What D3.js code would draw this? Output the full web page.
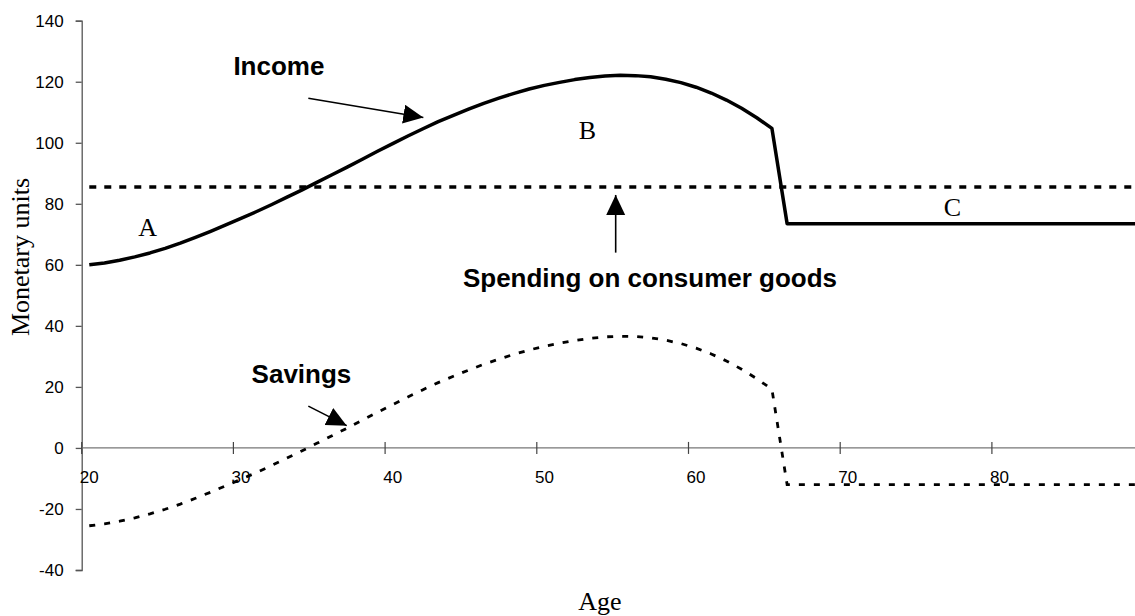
<!DOCTYPE html>
<html>
<head>
<meta charset="utf-8">
<script src="https://cdn.jsdelivr.net/npm/d3@7"></script>
<style>
  body { margin: 0; background: #fff; }
  svg { display: block; }
  .tick-label { font-family: "Liberation Sans", Arial, sans-serif; font-size: 17px; fill: #000; }
  .note { font-family: "Liberation Sans", Arial, sans-serif; font-size: 26px; font-weight: bold; fill: #000; }
  .serif { font-family: "Liberation Serif", "Times New Roman", serif; font-size: 26px; fill: #000; }
</style>
</head>
<body>
<svg id="chart" width="1135" height="616"></svg>
<script>
// ages shown on the category axis (one point per year)
const ages = d3.range(20, 90);

// income per year of age
const income = [
  60.0, 60.6, 61.5, 62.6, 63.9, 65.4, 67.1, 69.0, 71.0, 73.1,   // 20-29
  75.2, 77.4, 79.7, 82.1, 84.5, 87.0, 89.5, 92.0, 94.6, 97.2,   // 30-39
  99.7, 102.2, 104.6, 106.9, 109.0, 111.0, 112.9, 114.6, 116.2, 117.6, // 40-49
  118.8, 119.8, 120.7, 121.4, 121.9, 122.1, 122.0, 121.6, 120.8, 119.7, // 50-59
  118.2, 116.3, 114.0, 111.3, 108.2, 104.7, 73.5, 73.5, 73.5, 73.5,     // 60-69
  73.5, 73.5, 73.5, 73.5, 73.5, 73.5, 73.5, 73.5, 73.5, 73.5,           // 70-79
  73.5, 73.5, 73.5, 73.5, 73.5, 73.5, 73.5, 73.5, 73.5, 73.5            // 80-89
];

// flat consumer spending
const spending = ages.map(() => 85.5);

// savings per year of age
const savings = [
  -25.5, -24.9, -24.0, -22.9, -21.6, -20.1, -18.4, -16.5, -14.5, -12.4, // 20-29
  -10.3, -8.1, -5.8, -3.4, -1.0, 1.5, 4.0, 6.5, 9.1, 11.7,              // 30-39
  14.2, 16.7, 19.1, 21.4, 23.5, 25.5, 27.4, 29.1, 30.7, 32.1,           // 40-49
  33.3, 34.3, 35.2, 35.9, 36.4, 36.6, 36.5, 36.1, 35.3, 34.2,           // 50-59
  32.7, 30.8, 28.5, 25.8, 22.7, 19.2, -12.0, -12.0, -12.0, -12.0,       // 60-69
  -12.0, -12.0, -12.0, -12.0, -12.0, -12.0, -12.0, -12.0, -12.0, -12.0, // 70-79
  -12.0, -12.0, -12.0, -12.0, -12.0, -12.0, -12.0, -12.0, -12.0, -12.0  // 80-89
];

const yTicks = [-40, -20, 0, 20, 40, 60, 80, 100, 120, 140];
const xTicks = [20, 30, 40, 50, 60, 70, 80];

let svg = d3.select('#chart');

// category axis: each age takes one slot, points sit in the middle of the slot
let x = d3.scaleLinear().domain([20, 90]).range([81.7, 1143.6]);
let y = d3.scaleLinear().domain([-40, 140]).range([570, 20.7]);

// arrow heads
let defs = svg.append('defs');
defs.append('marker')
    .attr('id', 'head')
    .attr('markerUnits', 'userSpaceOnUse')
    .attr('markerWidth', 22)
    .attr('markerHeight', 20)
    .attr('refX', 20)
    .attr('refY', 9.5)
    .attr('orient', 'auto')
    .append('path')
    .attr('d', 'M0,0 L20,9.5 L0,19 Z')
    .attr('fill', '#000');

// y axis (plain hyphen for negatives, like the original)
let yAxis = svg.append('g')
    .attr('transform', `translate(${x(20)},0)`)
    .call(d3.axisLeft(y).tickValues(yTicks).tickSize(6).tickPadding(12).tickFormat(d => String(d)));
yAxis.select('.domain').attr('stroke', '#555').attr('stroke-width', 1.3);
yAxis.selectAll('.tick line').attr('stroke', '#555').attr('stroke-width', 1.3);
yAxis.selectAll('.tick text').attr('class', 'tick-label').attr('x', -18).attr('dy', '0.35em');

// x axis along zero
let xAxis = svg.append('g').attr('transform', `translate(0,${y(0)})`);
xAxis.append('line')
    .attr('x1', x(20)).attr('x2', x(90))
    .attr('stroke', '#777').attr('stroke-width', 1.3);
xAxis.selectAll('line.tk')
    .data(xTicks)
    .join('line')
    .classed('tk', true)
    .attr('x1', d => x(d)).attr('x2', d => x(d))
    .attr('y1', -6).attr('y2', 6)
    .attr('stroke', '#444').attr('stroke-width', 1.2);
xAxis.selectAll('text')
    .data(xTicks)
    .join('text')
    .attr('class', 'tick-label')
    .attr('x', d => x(d + 0.5))
    .attr('y', 35.5)
    .attr('text-anchor', 'middle')
    .text(d => d);

// series lines
let line = d3.line().x((d, i) => x(ages[i] + 0.5)).y(d => y(d));

svg.append('path')
    .datum(spending)
    .attr('d', line)
    .attr('fill', 'none')
    .attr('stroke', '#000')
    .attr('stroke-width', 3.5)
    .attr('stroke-dasharray', '7,8');

svg.append('path')
    .datum(savings)
    .attr('d', line)
    .attr('fill', 'none')
    .attr('stroke', '#000')
    .attr('stroke-width', 2.8)
    .attr('stroke-dasharray', '6,9');

svg.append('path')
    .datum(income)
    .attr('d', line)
    .attr('fill', 'none')
    .attr('stroke', '#000')
    .attr('stroke-width', 3.5)
    .attr('stroke-linejoin', 'round');

// annotations, placed in (age, value) units
const notes = [
  { text: 'Income', age: 30.0, val: 122.2 },
  { text: 'Spending on consumer goods', age: 45.13, val: 52.7 },
  { text: 'Savings', age: 31.2, val: 21.4 }
];
const arrows = [
  { a1: 34.94, v1: 114.6, a2: 42.52, v2: 108.3 },
  { a1: 55.2, v1: 64.0, a2: 55.2, v2: 82.9 },
  { a1: 34.94, v1: 13.7, a2: 37.47, v2: 7.3 }
];
const letters = [
  { text: 'A', age: 24.34, val: 69.5 },
  { text: 'B', age: 53.34, val: 101.2 },
  { text: 'C', age: 77.4, val: 76.1 }
];

svg.selectAll('text.note')
    .data(notes)
    .join('text')
    .attr('class', 'note')
    .attr('x', d => x(d.age))
    .attr('y', d => y(d.val))
    .text(d => d.text);

svg.selectAll('line.arrow')
    .data(arrows)
    .join('line')
    .classed('arrow', true)
    .attr('x1', d => x(d.a1)).attr('y1', d => y(d.v1))
    .attr('x2', d => x(d.a2)).attr('y2', d => y(d.v2))
    .attr('stroke', '#000')
    .attr('stroke-width', 1.6)
    .attr('marker-end', 'url(#head)');

svg.selectAll('text.letter')
    .data(letters)
    .join('text')
    .attr('class', 'serif letter')
    .attr('x', d => x(d.age))
    .attr('y', d => y(d.val))
    .attr('text-anchor', 'middle')
    .text(d => d.text);

// axis titles
svg.append('text')
    .attr('class', 'serif')
    .attr('transform', 'translate(28.5,257) rotate(-90)')
    .attr('text-anchor', 'middle')
    .text('Monetary units');

svg.append('text')
    .attr('class', 'serif')
    .attr('x', 600)
    .attr('y', 610)
    .attr('text-anchor', 'middle')
    .text('Age');
</script>
</body>
</html>
